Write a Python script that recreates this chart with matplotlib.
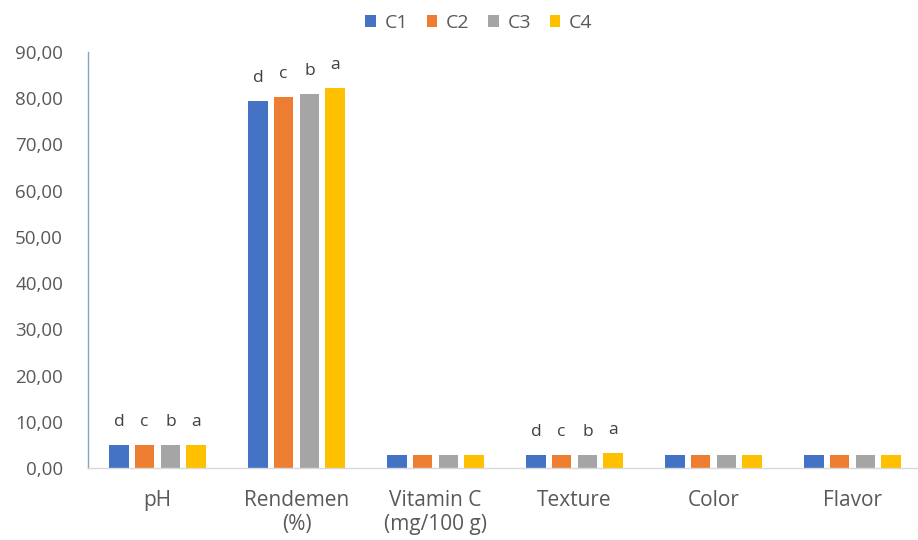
import matplotlib
matplotlib.use("Agg")
import matplotlib.pyplot as plt
import numpy as np

plt.rcParams['font.family'] = ['Open Sans', 'DejaVu Sans']

categories = ["pH", "Rendemen\n(%)", "Vitamin C\n(mg/100 g)", "Texture", "Color", "Flavor"]
series = ["C1", "C2", "C3", "C4"]
c1 = [5.0, 79.4, 2.8, 2.8, 2.8, 2.8]
c2 = [5.0, 80.3, 2.8, 2.8, 2.8, 2.8]
c3 = [5.0, 80.9, 2.8, 2.8, 2.8, 2.8]
c4 = [5.0, 82.2, 2.8, 3.2, 2.8, 2.8]
letters = {0: ["d", "c", "b", "a"], 1: ["d", "c", "b", "a"], 3: ["d", "c", "b", "a"]}
colors = ["#4472C4", "#ED7D31", "#A5A5A5", "#FFC000"]
yticks = [0, 10, 20, 30, 40, 50, 60, 70, 80, 90]

fig = plt.figure(figsize=(9.18, 5.4), dpi=100)
ax = fig.add_axes([88/918, 1-468/540, 834/918, (468-52)/540])

x = np.arange(len(categories))
pitch = 0.185
bw = 0.14
data = [c1, c2, c3, c4]
for i, (vals, col, name) in enumerate(zip(data, colors, series)):
    bars = ax.bar(x + (i - 1.5) * pitch, vals, width=bw, color=col, label=name, zorder=2)
    for j, b in enumerate(bars):
        if j in letters:
            ax.annotate(letters[j][i], (b.get_x() + b.get_width()/2, b.get_height()),
                        xytext=(0, 13.5), textcoords='offset points',
                        ha='center', va='baseline', fontsize=12.5, color='#404040')

ax.set_xlim(-0.5, len(categories) - 0.5)
ax.set_ylim(0, 90)
ax.set_yticks(yticks)
ax.set_yticklabels([f"{v:.2f}".replace('.', ',') for v in yticks], fontsize=13.5, color='#595959')
ax.set_xticks(x)
ax.set_xticklabels(categories, fontsize=15, color='#595959', linespacing=1.15)
ax.tick_params(axis='both', length=0)
ax.tick_params(axis='y', pad=18)
ax.tick_params(axis='x', pad=16)
for s in ['top', 'right']:
    ax.spines[s].set_visible(False)
ax.spines['left'].set_color('#7FA6C4')
ax.spines['left'].set_linewidth(1.0)
ax.spines['bottom'].set_color('#D9D9D9')
ax.spines['bottom'].set_linewidth(1.0)

fig.legend(loc='center', bbox_to_anchor=(479/918, 1-23/540), ncol=4, frameon=False,
           fontsize=14, handlelength=0.55, handleheight=0.55, handletextpad=0.45,
           columnspacing=0.95, labelcolor='#595959')

fig.savefig("out.png", dpi=100)
